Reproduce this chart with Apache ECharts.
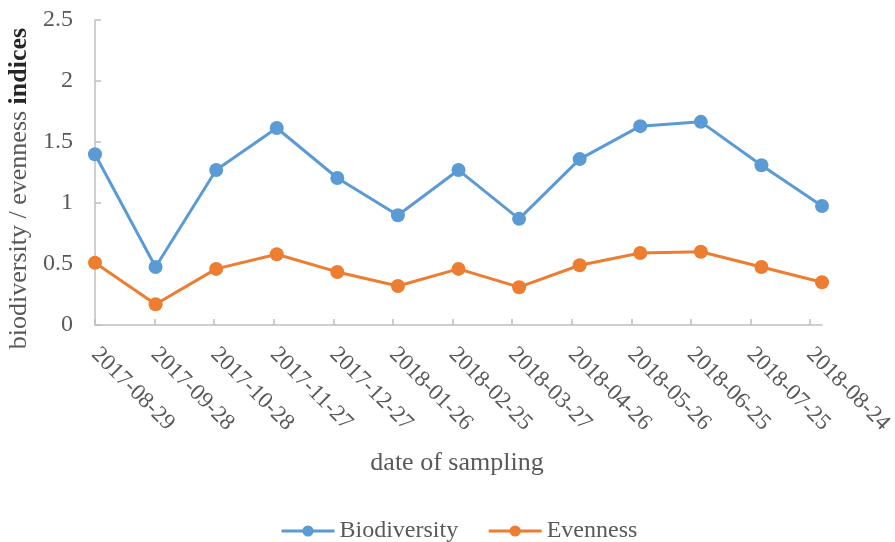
<!DOCTYPE html>
<html><head><meta charset="utf-8">
<script src="https://cdn.jsdelivr.net/npm/echarts@6/dist/echarts.min.js"></script>
<style>html,body{margin:0;padding:0;background:#fff}#c{width:895px;height:542px}</style>
</head><body><div id="c"></div>
<script>
const categories = ['2017-08-29','2017-09-28','2017-10-28','2017-11-27','2017-12-27','2018-01-26','2018-02-25','2018-03-27','2018-04-26','2018-05-26','2018-06-25','2018-07-25','2018-08-24'];
const biodiversity = [1.40,0.475,1.27,1.615,1.205,0.90,1.27,0.87,1.36,1.63,1.665,1.31,0.975];
const evenness = [0.51,0.17,0.46,0.58,0.435,0.32,0.46,0.31,0.49,0.59,0.60,0.475,0.35];
const yTicks = [0,0.5,1,1.5,2,2.5];
const FONT = '"Liberation Serif","Times New Roman",serif';
const AXIS_GRAY = '#BFBFBF';
const chart = echarts.init(document.getElementById('c'));
chart.setOption({
  animation:false,
  textStyle:{fontFamily:FONT},
  grid:[
    {left:95,right:73,top:20,bottom:217,containLabel:false,outerBoundsMode:'none'},
    {left:95,right:85,top:20,bottom:217,containLabel:false,outerBoundsMode:'none'}
  ],
  legend:{top:514,left:275,itemWidth:53,itemHeight:14,itemGap:29,
    lineStyle:{width:3},
    textStyle:{fontFamily:FONT,fontSize:24,color:'#595959'},
    data:['Biodiversity','Evenness']},
  xAxis:[
    {type:'category',gridIndex:0,data:categories,boundaryGap:false,
      axisLine:{lineStyle:{color:AXIS_GRAY,width:1.5}},
      axisTick:{show:false},axisLabel:{show:false},splitLine:{show:false}},
    {type:'category',gridIndex:1,data:categories,boundaryGap:false,
      name:'date of sampling',nameLocation:'middle',nameGap:125,
      nameTextStyle:{fontFamily:FONT,fontSize:26,color:'#595959',padding:[0,0,0,9]},
      axisLine:{show:false},
      axisTick:{show:true,inside:true,length:6,lineStyle:{color:AXIS_GRAY,width:1.5}},
      axisLabel:{rotate:-45,fontFamily:FONT,fontSize:23,color:'#595959',margin:26,interval:0},
      splitLine:{show:false}}
  ],
  yAxis:[
    {type:'value',gridIndex:0,min:yTicks[0],max:yTicks[yTicks.length-1],interval:0.5,
      name:'{g|biodiversity / evenness }{b|indices}',nameLocation:'middle',nameGap:60,
      nameTextStyle:{fontFamily:FONT,fontSize:26,color:'#595959',padding:[0,32,0,0],
        rich:{g:{fontFamily:FONT,fontSize:26,color:'#595959'},
              b:{fontFamily:FONT,fontSize:26,color:'#262626',fontWeight:'bold'}}},
      axisLine:{show:true,lineStyle:{color:AXIS_GRAY,width:1.5}},
      axisTick:{show:true,inside:true,length:6,lineStyle:{color:AXIS_GRAY,width:1.5}},
      axisLabel:{fontFamily:FONT,fontSize:24,color:'#595959',margin:22,formatter:v=>String(v)},
      splitLine:{show:false}},
    {type:'value',gridIndex:1,min:0,max:2.5,show:false,splitLine:{show:false}}
  ],
  series:[
    {name:'Biodiversity',type:'line',xAxisIndex:0,yAxisIndex:0,data:biodiversity,symbol:'circle',symbolSize:14,
      color:'#5B9BD5',lineStyle:{width:3,color:'#5B9BD5'},itemStyle:{color:'#5B9BD5'}},
    {name:'Evenness',type:'line',xAxisIndex:0,yAxisIndex:0,data:evenness,symbol:'circle',symbolSize:14,
      color:'#ED7D31',lineStyle:{width:3,color:'#ED7D31'},itemStyle:{color:'#ED7D31'}}
  ]
});
</script></body></html>
